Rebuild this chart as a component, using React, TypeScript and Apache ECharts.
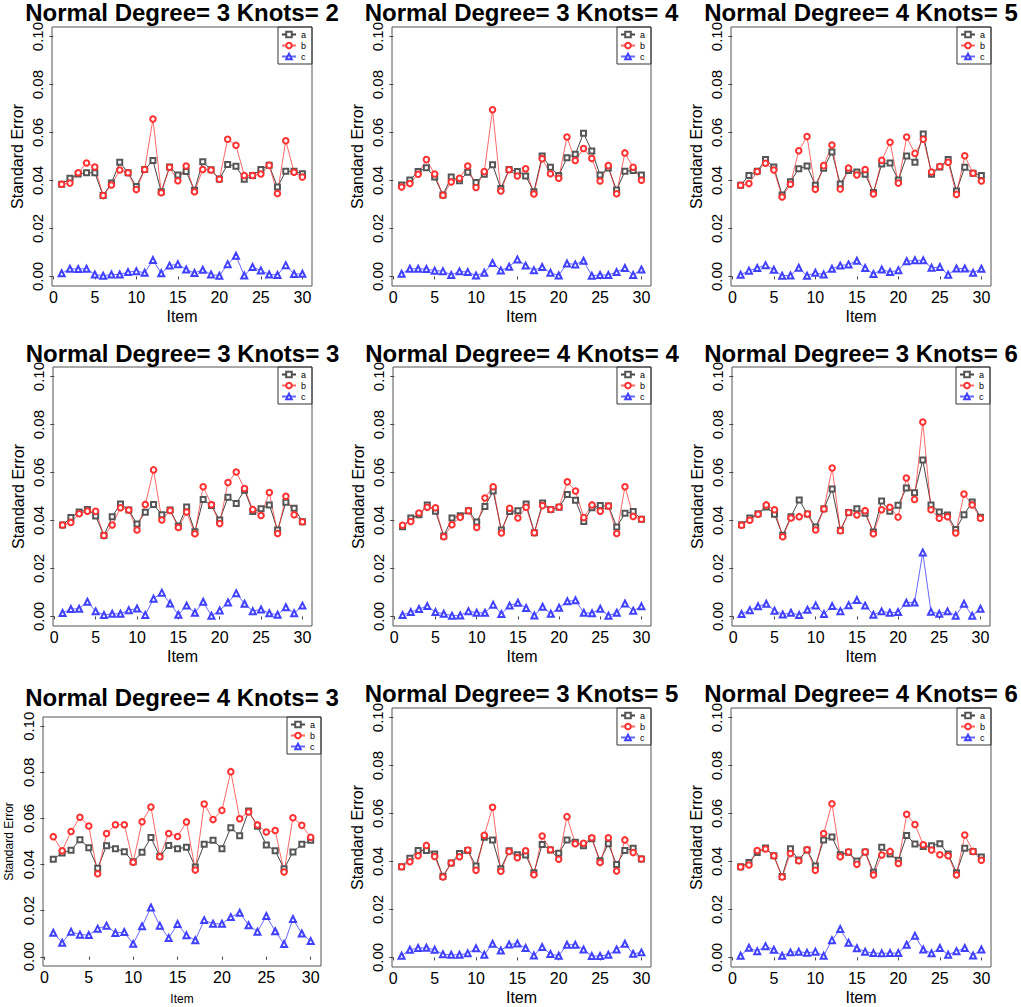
import React, { useEffect, useRef } from "react";
import * as echarts from "echarts";

const items = [1, 2, 3, 4, 5, 6, 7, 8, 9, 10, 11, 12, 13, 14, 15, 16, 17, 18, 19, 20, 21, 22, 23, 24, 25, 26, 27, 28, 29, 30];
const xTicks = [0, 5, 10, 15, 20, 25, 30];
const yTicks = [0, 0.02, 0.04, 0.06, 0.08, 0.1];
const seriesNames = ["a", "b", "c"];

const titles = [
  "Normal Degree= 3 Knots= 2",
  "Normal Degree= 3 Knots= 4",
  "Normal Degree= 4 Knots= 5",
  "Normal Degree= 3 Knots= 3",
  "Normal Degree= 4 Knots= 4",
  "Normal Degree= 3 Knots= 6",
  "Normal Degree= 4 Knots= 3",
  "Normal Degree= 3 Knots= 5",
  "Normal Degree= 4 Knots= 6",
];

// Panel 1: Degree 3, Knots 2
const a1 = [0.0384, 0.0409, 0.0427, 0.0432, 0.0432, 0.0337, 0.0389, 0.0476, 0.0432, 0.0375, 0.0446, 0.0483, 0.0353, 0.0456, 0.0423, 0.0437, 0.0359, 0.0478, 0.0445, 0.0406, 0.0467, 0.0459, 0.0405, 0.0421, 0.0446, 0.0463, 0.0373, 0.0438, 0.0439, 0.0428];
const b1 = [0.0384, 0.0389, 0.0432, 0.0473, 0.0456, 0.0337, 0.0381, 0.0444, 0.0432, 0.0362, 0.0446, 0.0656, 0.0349, 0.0455, 0.0399, 0.046, 0.0353, 0.0446, 0.0444, 0.0405, 0.0572, 0.0547, 0.0421, 0.0421, 0.0427, 0.0463, 0.0346, 0.0566, 0.0434, 0.0414];
const c1 = [0.0013, 0.0032, 0.0031, 0.0032, 0.0008, 0.0003, 0.0008, 0.0008, 0.0018, 0.0022, 0.0015, 0.0068, 0.0013, 0.0045, 0.0051, 0.0029, 0.0014, 0.0028, 0.0008, 0.0003, 0.0051, 0.0086, 0.0004, 0.0039, 0.0025, 0.0008, 0.0006, 0.0047, 0.001, 0.0011];

// Panel 2: Degree 3, Knots 4
const a2 = [0.0381, 0.0402, 0.0437, 0.0453, 0.0414, 0.0339, 0.0414, 0.0399, 0.0434, 0.0392, 0.0426, 0.0466, 0.0367, 0.0446, 0.0437, 0.0419, 0.0353, 0.0502, 0.0455, 0.0421, 0.0495, 0.0509, 0.0597, 0.0523, 0.0423, 0.0452, 0.036, 0.0438, 0.0442, 0.0423];
const b2 = [0.0373, 0.0387, 0.0426, 0.0487, 0.0427, 0.0338, 0.0394, 0.0409, 0.046, 0.0371, 0.0437, 0.0695, 0.0356, 0.0445, 0.0419, 0.0449, 0.0344, 0.0491, 0.0428, 0.0409, 0.0581, 0.0483, 0.0533, 0.0492, 0.0398, 0.0462, 0.0345, 0.0515, 0.0455, 0.0401];
const c2 = [0.0011, 0.0032, 0.0032, 0.0031, 0.0024, 0.0022, 0.0006, 0.0021, 0.0018, 0.0004, 0.0015, 0.0056, 0.0025, 0.004, 0.0071, 0.0045, 0.0026, 0.0039, 0.0015, 0.0004, 0.0054, 0.005, 0.0065, 0.0003, 0.0006, 0.0006, 0.0018, 0.0035, 0.0006, 0.0029];

// Panel 3: Degree 4, Knots 5
const a3 = [0.038, 0.0421, 0.0438, 0.0487, 0.0456, 0.0339, 0.0395, 0.0449, 0.046, 0.038, 0.0451, 0.0519, 0.0385, 0.0442, 0.0435, 0.0426, 0.035, 0.0469, 0.0473, 0.0402, 0.0502, 0.0476, 0.0594, 0.0426, 0.0456, 0.0488, 0.0356, 0.0455, 0.043, 0.0421];
const b3 = [0.038, 0.0387, 0.0437, 0.0472, 0.0444, 0.0331, 0.0384, 0.0524, 0.0583, 0.0363, 0.0462, 0.0548, 0.0364, 0.0452, 0.0423, 0.0446, 0.0344, 0.0484, 0.0559, 0.0389, 0.0581, 0.0513, 0.0572, 0.0435, 0.0458, 0.0476, 0.0342, 0.0503, 0.043, 0.0398];
const c3 = [0.0007, 0.0024, 0.0035, 0.0047, 0.0028, 0.0003, 0.0004, 0.0036, 0.0003, 0.0015, 0.0008, 0.0032, 0.0045, 0.005, 0.0065, 0.0035, 0.001, 0.0029, 0.0018, 0.0026, 0.0063, 0.0067, 0.0067, 0.0036, 0.0039, 0.0007, 0.0033, 0.0033, 0.0015, 0.0032];

// Panel 4: Degree 3, Knots 3
const a4 = [0.0381, 0.0412, 0.0435, 0.0446, 0.0419, 0.0337, 0.0416, 0.0469, 0.0444, 0.0385, 0.0434, 0.0467, 0.0424, 0.0444, 0.0377, 0.0456, 0.0353, 0.0487, 0.0462, 0.0402, 0.0497, 0.0471, 0.0526, 0.0437, 0.0449, 0.0465, 0.036, 0.0476, 0.0451, 0.0395];
const b4 = [0.0381, 0.0392, 0.0428, 0.0439, 0.0438, 0.0337, 0.0381, 0.0453, 0.0444, 0.036, 0.0467, 0.0611, 0.0402, 0.0442, 0.0371, 0.0435, 0.0345, 0.0541, 0.0466, 0.0387, 0.0558, 0.0602, 0.0533, 0.0446, 0.0421, 0.0517, 0.0346, 0.0501, 0.0424, 0.0395];
const c4 = [0.0014, 0.0031, 0.0032, 0.0061, 0.0021, 0.0006, 0.0011, 0.0011, 0.0026, 0.0033, 0.0006, 0.0074, 0.0099, 0.0054, 0.0007, 0.0045, 0.0015, 0.0061, 0.0003, 0.0025, 0.0058, 0.0097, 0.0053, 0.0022, 0.0029, 0.0013, 0.0007, 0.0038, 0.0013, 0.0045];

// Panel 5: Degree 4, Knots 4
const a5 = [0.0374, 0.041, 0.0424, 0.0465, 0.0439, 0.0335, 0.041, 0.042, 0.0441, 0.0394, 0.0458, 0.0523, 0.036, 0.0437, 0.0441, 0.0469, 0.0349, 0.0473, 0.0446, 0.0455, 0.0508, 0.0484, 0.0396, 0.0453, 0.0462, 0.046, 0.0373, 0.043, 0.0437, 0.0405];
const b5 = [0.038, 0.0396, 0.0431, 0.0455, 0.0453, 0.0332, 0.0382, 0.0413, 0.0441, 0.0371, 0.0494, 0.0541, 0.0348, 0.0451, 0.041, 0.0455, 0.0349, 0.0462, 0.0446, 0.0456, 0.0561, 0.0523, 0.0412, 0.0465, 0.0439, 0.046, 0.0346, 0.0541, 0.0417, 0.0405];
const c5 = [0.0006, 0.0018, 0.0031, 0.0043, 0.0018, 0.0011, 0.0003, 0.0004, 0.0022, 0.0015, 0.0015, 0.0049, 0.001, 0.0045, 0.0057, 0.0035, 0.0004, 0.004, 0.0011, 0.0036, 0.0063, 0.0067, 0.0015, 0.0013, 0.0032, 0.0003, 0.0015, 0.0054, 0.0024, 0.0042];

// Panel 6: Degree 3, Knots 6
const a6 = [0.0382, 0.041, 0.0428, 0.0456, 0.0426, 0.0338, 0.0416, 0.0485, 0.0427, 0.0373, 0.0449, 0.0531, 0.0359, 0.0433, 0.0449, 0.043, 0.0352, 0.0481, 0.0438, 0.0463, 0.0535, 0.0516, 0.0652, 0.0465, 0.0435, 0.0423, 0.0362, 0.0424, 0.0477, 0.0413];
const b6 = [0.038, 0.0401, 0.0426, 0.0465, 0.0445, 0.0332, 0.041, 0.0416, 0.0427, 0.036, 0.0448, 0.0619, 0.0357, 0.0433, 0.0423, 0.0441, 0.0345, 0.0445, 0.0455, 0.0414, 0.0577, 0.0488, 0.0811, 0.0445, 0.0409, 0.0416, 0.0348, 0.051, 0.0465, 0.0409];
const c6 = [0.001, 0.0026, 0.0042, 0.0053, 0.0024, 0.0008, 0.0015, 0.0006, 0.0028, 0.0046, 0.001, 0.0043, 0.0022, 0.0047, 0.0068, 0.0045, 0.0007, 0.0021, 0.0015, 0.0018, 0.0057, 0.0058, 0.0267, 0.0019, 0.0011, 0.0021, 0.0003, 0.0053, 0.0003, 0.0032];

// Panel 7: Degree 4, Knots 3
const a7 = [0.0423, 0.045, 0.0462, 0.0508, 0.0473, 0.0384, 0.0482, 0.0469, 0.0456, 0.0412, 0.0453, 0.0517, 0.0436, 0.0483, 0.0469, 0.0475, 0.0389, 0.0488, 0.0505, 0.0469, 0.056, 0.0525, 0.0632, 0.0566, 0.0485, 0.046, 0.0382, 0.0454, 0.0488, 0.0505];
const b7 = [0.0521, 0.046, 0.0543, 0.0605, 0.0567, 0.036, 0.0535, 0.0573, 0.0573, 0.041, 0.0586, 0.065, 0.0434, 0.0535, 0.0522, 0.0585, 0.0376, 0.0663, 0.0595, 0.0635, 0.0803, 0.0599, 0.0628, 0.0572, 0.0541, 0.0548, 0.0368, 0.0603, 0.057, 0.0518];
const c7 = [0.0104, 0.0061, 0.0109, 0.0096, 0.0094, 0.0122, 0.0135, 0.0103, 0.0107, 0.0056, 0.0132, 0.0214, 0.0135, 0.0081, 0.0142, 0.0093, 0.0072, 0.0159, 0.0143, 0.0143, 0.0172, 0.0191, 0.0137, 0.0109, 0.0177, 0.0111, 0.0055, 0.0164, 0.0101, 0.0068];

// Panel 8: Degree 3, Knots 5
const a8 = [0.0378, 0.0413, 0.0446, 0.0446, 0.0431, 0.0338, 0.0394, 0.0433, 0.0446, 0.0381, 0.0501, 0.049, 0.037, 0.0445, 0.0428, 0.0427, 0.0353, 0.0471, 0.0448, 0.0434, 0.049, 0.048, 0.0466, 0.0495, 0.0403, 0.0474, 0.0387, 0.0446, 0.0455, 0.041];
const b8 = [0.0378, 0.0399, 0.0424, 0.0467, 0.0421, 0.0335, 0.0394, 0.042, 0.0448, 0.0363, 0.0509, 0.0626, 0.0359, 0.0442, 0.0416, 0.0445, 0.0345, 0.0506, 0.0449, 0.0409, 0.0587, 0.0474, 0.0476, 0.0499, 0.0396, 0.0499, 0.036, 0.049, 0.0437, 0.041];
const c8 = [0.0007, 0.0032, 0.0039, 0.004, 0.0032, 0.0013, 0.0011, 0.0011, 0.0017, 0.0038, 0.0011, 0.0057, 0.0029, 0.0054, 0.0058, 0.0039, 0.0008, 0.0043, 0.0014, 0.0007, 0.0053, 0.0053, 0.0033, 0.0006, 0.0006, 0.0011, 0.0033, 0.0057, 0.0015, 0.0021];

// Panel 9: Degree 4, Knots 6
const a9 = [0.0378, 0.0396, 0.0437, 0.0456, 0.0424, 0.0337, 0.0453, 0.0406, 0.0448, 0.0381, 0.049, 0.0502, 0.0428, 0.0438, 0.0402, 0.044, 0.0355, 0.0459, 0.0431, 0.0405, 0.0508, 0.0473, 0.0462, 0.0466, 0.0474, 0.0431, 0.0353, 0.0455, 0.0442, 0.0419];
const b9 = [0.0377, 0.0385, 0.0446, 0.0452, 0.0424, 0.0335, 0.0433, 0.0403, 0.0449, 0.0363, 0.0517, 0.0641, 0.042, 0.044, 0.0388, 0.044, 0.0344, 0.0427, 0.0442, 0.0392, 0.0597, 0.0554, 0.047, 0.0448, 0.0428, 0.0424, 0.0344, 0.051, 0.0442, 0.0405];
const c9 = [0.0007, 0.004, 0.0026, 0.0047, 0.0032, 0.0007, 0.0021, 0.0024, 0.0019, 0.0024, 0.0007, 0.0072, 0.0118, 0.0061, 0.0038, 0.0024, 0.0018, 0.0017, 0.0018, 0.0018, 0.0053, 0.009, 0.0033, 0.0017, 0.0039, 0.0011, 0.0026, 0.0039, 0.0008, 0.0033];

const panelData = [
  [a1, b1, c1], [a2, b2, c2], [a3, b3, c3],
  [a4, b4, c4], [a5, b5, c5], [a6, b6, c6],
  [a7, b7, c7], [a8, b8, c8], [a9, b9, c9],
];

// layout (page px): plot box and title centre
const W = 1021;
const H = 1007;
const layout = [
  { l: 52, t: 27, w: 260, h: 259, ty: 12.5, small: false },
  { l: 392, t: 27, w: 259, h: 259, ty: 12.5, small: false },
  { l: 731, t: 27, w: 260, h: 259, ty: 12.5, small: false },
  { l: 53, t: 367, w: 259, h: 259, ty: 353, small: false },
  { l: 393, t: 367, w: 258, h: 259, ty: 353, small: false },
  { l: 732, t: 367, w: 258, h: 259, ty: 353, small: false },
  { l: 43, t: 717, w: 278, h: 249, ty: 697.5, small: true },
  { l: 392, t: 708, w: 259, h: 259, ty: 693.5, small: false },
  { l: 731, t: 708, w: 260, h: 259, ty: 693.5, small: false },
];

const FONT = '"Liberation Sans", Arial, Helvetica, sans-serif';
const lineColors = ["rgba(20,20,20,0.8)", "rgba(255,40,40,0.7)", "rgba(40,40,255,0.7)"];
const symColors = ["#555555", "#ff3030", "#4040ff"];
const symbols = ["emptyRect", "emptyCircle", "emptyTriangle"];
const symSizes = [5, 5.5, 6];

export default function App() {
  const ref = useRef<HTMLDivElement>(null);
  useEffect(() => {
    document.body.style.margin = "0";
    if (!ref.current) return;
    const chart = echarts.init(ref.current, undefined, { renderer: "svg" });

    const grid: any[] = [];
    const xAxis: any[] = [];
    const yAxis: any[] = [];
    const series: any[] = [];
    const legend: any[] = [];
    const graphic: any[] = [];

    layout.forEach((p, i) => {
      grid.push({
        left: p.l, top: p.t, width: p.w, height: p.h,
        show: true, borderColor: "#555", borderWidth: 1,
        backgroundColor: "transparent", containLabel: false,
      });
      xAxis.push({
        type: "value", gridIndex: i, min: -0.16, max: 31.16,
        axisLine: { show: false }, splitLine: { show: false },
        axisTick: { show: true, inside: false, length: 3, customValues: xTicks, lineStyle: { color: "#444" } },
        axisLabel: { customValues: xTicks, margin: 3, fontSize: 16, color: "#000", fontFamily: FONT },
        name: "Item", nameLocation: "middle", nameGap: p.small ? 27 : 22,
        nameTextStyle: { fontSize: p.small ? 12 : 16, color: "#000", fontFamily: FONT },
      });
      yAxis.push({
        type: "value", gridIndex: i, min: -0.004, max: 0.104,
        axisLine: { show: false }, splitLine: { show: false },
        axisTick: { show: true, inside: false, length: 4, customValues: yTicks, lineStyle: { color: "#444" } },
        axisLabel: {
          customValues: yTicks, rotate: 90, margin: 7, fontSize: 15, color: "#000", fontFamily: FONT,
          formatter: (v: number) => v.toFixed(2),
        },
        name: "Standard Error", nameLocation: "middle", nameRotate: 90, nameGap: p.small ? 28 : 27,
        nameTextStyle: { fontSize: p.small ? 12 : 16, color: "#000", fontFamily: FONT },
      });
      panelData[i].forEach((vals, k) => {
        series.push({
          type: "line", name: seriesNames[k], xAxisIndex: i, yAxisIndex: i,
          data: items.map((x, j) => [x, vals[j]]),
          symbol: symbols[k], symbolSize: symSizes[k], showSymbol: true,
          lineStyle: { width: 1, color: lineColors[k] },
          itemStyle: { color: symColors[k], borderColor: symColors[k], borderWidth: 0.8 },
          emphasis: { disabled: true },
        });
      });
      legend.push({
        orient: "vertical", right: W - (p.l + p.w), top: p.t,
        data: seriesNames, selectedMode: false,
        itemWidth: 14, itemHeight: 7, itemGap: 2,
        padding: [3, 6, 3, 3],
        borderColor: "#333", borderWidth: 1, borderRadius: 0,
        textStyle: { fontSize: 9, color: "#000", fontFamily: FONT },
      });
      graphic.push({
        type: "text", x: p.l + p.w / 2, y: p.ty,
        style: {
          text: titles[i], fill: "#000",
          font: `bold 24px ${FONT}`,
          textAlign: "center", textVerticalAlign: "middle",
        },
      });
    });

    chart.setOption({
      animation: false,
      backgroundColor: "#fff",
      grid, xAxis, yAxis, series, legend, graphic,
    });
    return () => chart.dispose();
  }, []);
  return <div ref={ref} style={{ width: W, height: H }} />;
}
